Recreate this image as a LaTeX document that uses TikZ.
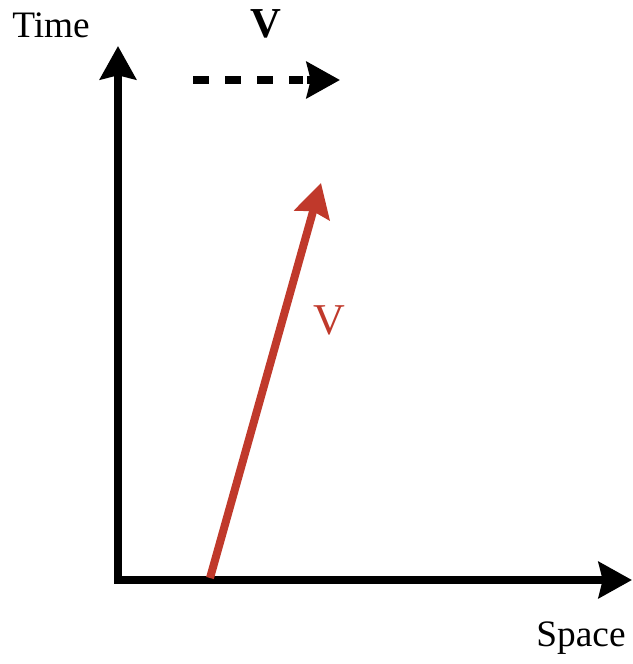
\documentclass[tikz,border=0pt]{standalone}
\usepackage{fontspec}
\setmainfont{Liberation Serif}
\usetikzlibrary{arrows.meta}

\definecolor{vred}{RGB}{192,57,43}

\begin{document}
\begin{tikzpicture}[
  x=0.75pt, y=-0.75pt,
  >={Stealth[length=25pt, width=27pt, inset=3pt]},
  axis/.style     = {line width=6.5pt, line join=miter},
  vec/.style      = {line width=6pt, vred},
  dashline/.style = {line width=6pt, dash pattern=on 12pt off 12pt},
  lbl/.style      = {inner sep=0pt, font=\fontsize{28}{30}\selectfont},
  vlbl/.style     = {inner sep=0pt, font=\fontsize{33}{36}\selectfont},
]
  \useasboundingbox (0,0) rectangle (632,664);

  % ---- axes ----
  \coordinate (origin) at (118,580);
  \coordinate (ttip)   at (118,46);
  \coordinate (stip)   at (632,580);
  \draw[axis, <->] (ttip) -- (origin) -- (stip);

  \node[lbl] (lbltime)  at (51,25)   {Time};
  \node[lbl] (lblspace) at (581,638) {Space};

  % ---- dashed velocity on top ----
  % dashes stop at dend, the head sits on its own from dhead
  \coordinate (dstart) at (193,80);
  \coordinate (dend)   at (303,80);
  \coordinate (dhead)  at (307,80);
  \coordinate (dtip)   at (340,80);
  \draw[dashline]              (dstart) -- (dend);
  \draw[line width=6pt, ->]    (dhead)  -- (dtip);
  \node[vlbl, font=\fontsize{32}{34}\selectfont\bfseries] (lblvdash) at (266,24) {V};

  % ---- red worldline ----
  \coordinate (vstart) at (210,578);
  \coordinate (vtip)   at (321,183);
  \draw[vec, ->] (vstart) -- (vtip);
  \node[vlbl, text=vred] (lblv) at (329,320) {V};
\end{tikzpicture}
\end{document}
